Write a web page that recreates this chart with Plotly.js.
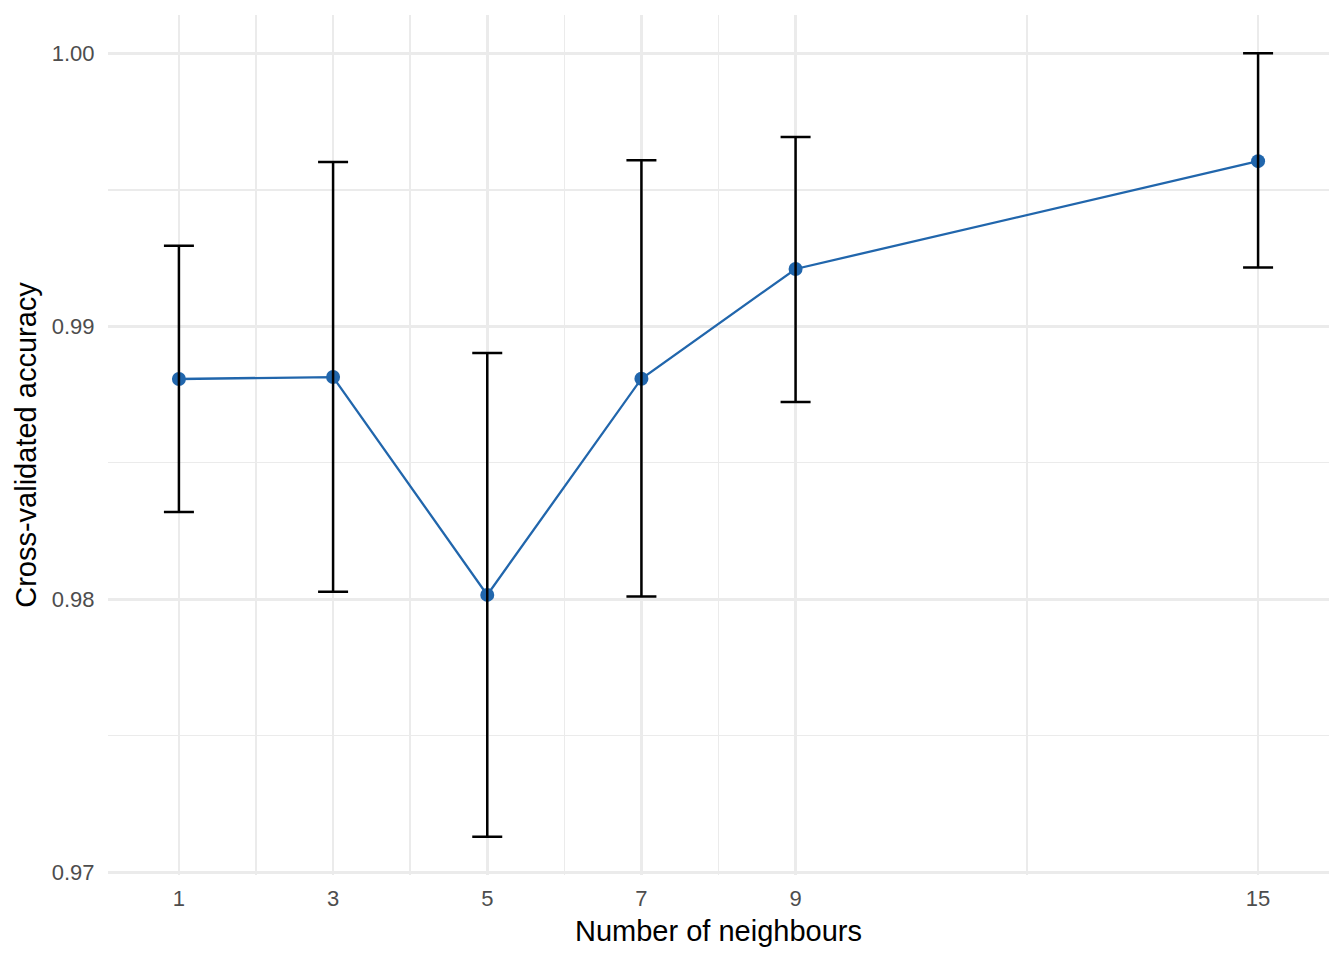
<!DOCTYPE html>
<html>
<head>
<meta charset="utf-8">
<script src="https://cdn.plot.ly/plotly-3.0.1.min.js"></script>
<style>html,body{margin:0;padding:0;background:#fff;}#chart{width:1344px;height:960px;}</style>
</head>
<body>
<div id="chart"></div>
<script>
const neighbours = [1, 3, 5, 7, 9, 15];
const meanAccuracy = [0.98807, 0.98814, 0.98016, 0.98808, 0.99210, 0.99605];
const upperAccuracy = [0.99295, 0.99602, 0.98902, 0.99608, 0.99693, 1.00000];
const lowerAccuracy = [0.98320, 0.98028, 0.97130, 0.98010, 0.98723, 0.99215];
const xTickVals = [1, 3, 5, 7, 9, 15];
const xMinorVals = [2, 4, 6, 8, 12];
const yTickVals = [0.97, 0.98, 0.99, 1.00];
const yTickText = ["0.97", "0.98", "0.99", "1.00"];
const yMinorVals = [0.975, 0.985, 0.995];

const errPlus = upperAccuracy.map((u, i) => u - meanAccuracy[i]);
const errMinus = lowerAccuracy.map((l, i) => meanAccuracy[i] - l);

const traces = [
  {
    x: neighbours, y: meanAccuracy, type: 'scatter', mode: 'lines+markers',
    line: {color: '#2166AC', width: 2.3},
    marker: {color: '#2166AC', size: 14},
    hoverinfo: 'skip', showlegend: false
  },
  {
    x: neighbours, y: meanAccuracy, type: 'scatter', mode: 'markers',
    marker: {size: 1, opacity: 0},
    error_y: {type: 'data', symmetric: false, array: errPlus, arrayminus: errMinus,
              color: '#000000', thickness: 2.5, width: 15},
    hoverinfo: 'skip', showlegend: false
  }
];

const layout = {
  width: 1344, height: 960,
  margin: {l: 108, r: 15, t: 15, b: 85},
  paper_bgcolor: '#ffffff', plot_bgcolor: '#ffffff',
  font: {family: 'Liberation Sans, Arial, sans-serif', color: '#000000'},
  showlegend: false,
  xaxis: {
    range: [0.08, 15.92],
    tickmode: 'array', tickvals: xTickVals, ticktext: xTickVals.map(String),
    showgrid: true, gridcolor: '#EBEBEB', gridwidth: 2.7,
    minor: {tickmode: 'array', tickvals: xMinorVals, showgrid: true, gridcolor: '#EBEBEB', gridwidth: 1.4, ticklen: 0},
    zeroline: false, showline: false,
    ticks: 'outside', ticklen: 4, tickcolor: 'rgba(0,0,0,0)',
    tickfont: {size: 22, color: '#4D4D4D'},
    title: {text: 'Number of neighbours', font: {size: 29, color: '#000000'}, standoff: 10}
  },
  yaxis: {
    range: [0.9699, 1.001403],
    tickmode: 'array', tickvals: yTickVals, ticktext: yTickText,
    showgrid: true, gridcolor: '#EBEBEB', gridwidth: 2.7,
    minor: {tickmode: 'array', tickvals: yMinorVals, showgrid: true, gridcolor: '#EBEBEB', gridwidth: 1.4, ticklen: 0},
    zeroline: false, showline: false,
    ticks: 'outside', ticklen: 8, tickcolor: 'rgba(0,0,0,0)',
    tickfont: {size: 22, color: '#4D4D4D'},
    title: {text: 'Cross-validated accuracy', font: {size: 29, color: '#000000'}, standoff: 6}
  }
};

Plotly.newPlot('chart', traces, layout, {displayModeBar: false, staticPlot: true});
</script>
</body>
</html>
